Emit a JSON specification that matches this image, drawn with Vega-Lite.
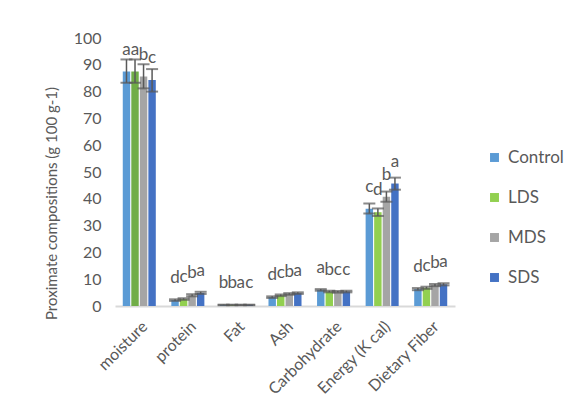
{
  "$schema": "https://vega.github.io/schema/vega-lite/v6.json",
  "width": 340,
  "height": 268,
  "autosize": "none",
  "padding": {"left": 115, "top": 38, "right": 129, "bottom": 113},
  "background": "white",
  "config": {
    "view": {"stroke": null},
    "font": "Lato",
    "axis": {"labelColor": "#595959", "titleColor": "#595959", "labelFont": "Lato", "titleFont": "Lato"},
    "legend": {"labelFont": "Lato"}
  },
  "data": {
    "values": [
      {"component": "moisture", "treatment": "Control", "value": 87.5, "lo": 83.3, "hi": 92.0, "label": "a"},
      {"component": "moisture", "treatment": "LDS", "value": 87.5, "lo": 83.3, "hi": 92.0, "label": "a"},
      {"component": "moisture", "treatment": "MDS", "value": 85.6, "lo": 81.2, "hi": 90.2, "label": "b"},
      {"component": "moisture", "treatment": "SDS", "value": 84.3, "lo": 80.0, "hi": 88.4, "label": "c"},
      {"component": "protein", "treatment": "Control", "value": 2.2, "lo": 1.9, "hi": 2.5, "label": "d"},
      {"component": "protein", "treatment": "LDS", "value": 2.6, "lo": 2.3, "hi": 2.9, "label": "c"},
      {"component": "protein", "treatment": "MDS", "value": 4.0, "lo": 3.6, "hi": 4.4, "label": "b"},
      {"component": "protein", "treatment": "SDS", "value": 4.9, "lo": 4.5, "hi": 5.3, "label": "a"},
      {"component": "Fat", "treatment": "Control", "value": 0.4, "lo": 0.3, "hi": 0.5, "label": "b"},
      {"component": "Fat", "treatment": "LDS", "value": 0.4, "lo": 0.3, "hi": 0.5, "label": "b"},
      {"component": "Fat", "treatment": "MDS", "value": 0.4, "lo": 0.3, "hi": 0.5, "label": "a"},
      {"component": "Fat", "treatment": "SDS", "value": 0.4, "lo": 0.3, "hi": 0.5, "label": "c"},
      {"component": "Ash", "treatment": "Control", "value": 3.3, "lo": 3.0, "hi": 3.6, "label": "d"},
      {"component": "Ash", "treatment": "LDS", "value": 4.0, "lo": 3.7, "hi": 4.3, "label": "c"},
      {"component": "Ash", "treatment": "MDS", "value": 4.5, "lo": 4.2, "hi": 4.8, "label": "b"},
      {"component": "Ash", "treatment": "SDS", "value": 4.8, "lo": 4.5, "hi": 5.1, "label": "a"},
      {"component": "Carbohydrate", "treatment": "Control", "value": 6.0, "lo": 5.7, "hi": 6.3, "label": "a"},
      {"component": "Carbohydrate", "treatment": "LDS", "value": 5.4, "lo": 5.1, "hi": 5.7, "label": "b"},
      {"component": "Carbohydrate", "treatment": "MDS", "value": 5.3, "lo": 5.0, "hi": 5.6, "label": "c"},
      {"component": "Carbohydrate", "treatment": "SDS", "value": 5.4, "lo": 5.1, "hi": 5.7, "label": "c"},
      {"component": "Energy (K cal)", "treatment": "Control", "value": 36.3, "lo": 34.5, "hi": 38.2, "label": "c"},
      {"component": "Energy (K cal)", "treatment": "LDS", "value": 35.0, "lo": 33.6, "hi": 36.4, "label": "d"},
      {"component": "Energy (K cal)", "treatment": "MDS", "value": 40.8, "lo": 38.9, "hi": 42.7, "label": "b"},
      {"component": "Energy (K cal)", "treatment": "SDS", "value": 45.7, "lo": 43.4, "hi": 47.9, "label": "a"},
      {"component": "Dietary Fiber", "treatment": "Control", "value": 6.3, "lo": 5.9, "hi": 6.7, "label": "d"},
      {"component": "Dietary Fiber", "treatment": "LDS", "value": 6.8, "lo": 6.4, "hi": 7.2, "label": "c"},
      {"component": "Dietary Fiber", "treatment": "MDS", "value": 7.8, "lo": 7.4, "hi": 8.2, "label": "b"},
      {"component": "Dietary Fiber", "treatment": "SDS", "value": 8.1, "lo": 7.7, "hi": 8.5, "label": "a"}
    ]
  },
  "encoding": {
    "x": {
      "field": "component",
      "type": "nominal",
      "sort": ["moisture", "protein", "Fat", "Ash", "Carbohydrate", "Energy (K cal)", "Dietary Fiber"],
      "scale": {"paddingInner": 0.32, "paddingOuter": 0.16},
      "axis": {
        "title": null,
        "labelAngle": -45,
        "labelAlign": "right",
        "labelBaseline": "top",
        "labelFontSize": 16,
        "labelPadding": 12,
        "labelOverlap": false,
        "labelBound": false,
        "ticks": false,
        "domainColor": "#D9D9D9",
        "domainWidth": 2
      }
    },
    "xOffset": {
      "field": "treatment",
      "type": "nominal",
      "sort": ["Control", "LDS", "MDS", "SDS"],
      "scale": {"paddingInner": 0.13}
    }
  },
  "layer": [
    {
      "mark": {"type": "bar"},
      "encoding": {
        "y": {
          "field": "value",
          "type": "quantitative",
          "scale": {"domain": [0, 100], "nice": false},
          "axis": {
            "title": "Proximate compositions  (g 100 g-1)",
            "titleY": 165,
            "titleFontSize": 15,
            "titleFontWeight": "normal",
            "titlePadding": 14,
            "labelFontSize": 16,
            "labelPadding": 14,
            "labelOverlap": false,
            "tickCount": 12,
            "values": [0, 10, 20, 30, 40, 50, 60, 70, 80, 90, 100],
            "ticks": false,
            "domain": false,
            "grid": false
          }
        },
        "color": {
          "condition": {"test": "datum.component === 'moisture' && datum.treatment === 'LDS'", "value": "#70AD47"},
          "field": "treatment",
          "type": "nominal",
          "sort": ["Control", "LDS", "MDS", "SDS"],
          "scale": {"domain": ["Control", "LDS", "MDS", "SDS"], "range": ["#5B9BD5", "#92D050", "#A5A5A5", "#4472C4"]},
          "legend": {
            "title": null,
            "orient": "none",
            "legendX": 371,
            "legendY": 111,
            "symbolType": "square",
            "symbolSize": 80,
            "symbolStrokeWidth": 0,
            "labelFontSize": 17,
            "labelColor": "#595959",
            "labelOffset": 5,
            "rowPadding": 22
          }
        }
      }
    },
    {
      "mark": {"type": "rule", "color": "#595959", "strokeWidth": 1.5},
      "encoding": {
        "y": {"field": "lo", "type": "quantitative"},
        "y2": {"field": "hi"}
      }
    },
    {
      "mark": {"type": "tick", "color": "#595959", "thickness": 2, "size": 12},
      "encoding": {"y": {"field": "lo", "type": "quantitative"}}
    },
    {
      "mark": {"type": "tick", "color": "#595959", "thickness": 2, "size": 12},
      "encoding": {"y": {"field": "hi", "type": "quantitative"}}
    },
    {
      "mark": {"type": "text", "fontSize": 17, "color": "#595959", "baseline": "alphabetic", "dy": -17},
      "encoding": {
        "y": {"field": "value", "type": "quantitative"},
        "text": {"field": "label"}
      }
    }
  ]
}
